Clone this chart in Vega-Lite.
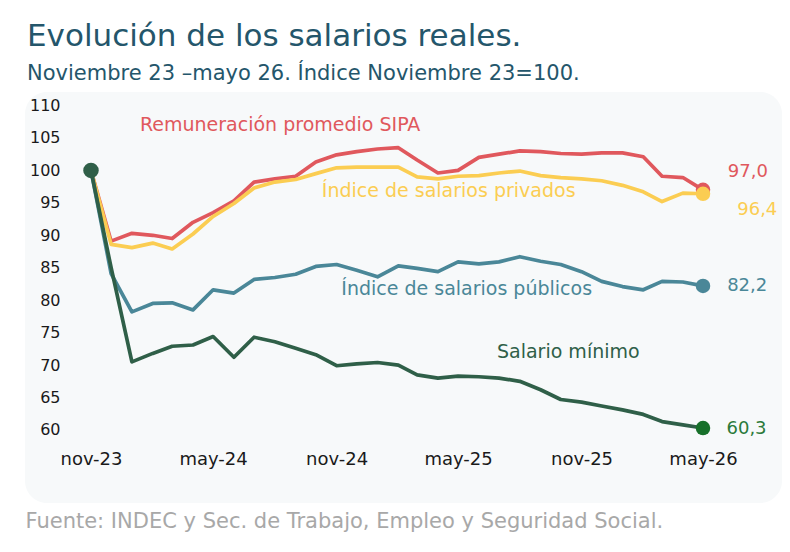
{
  "$schema": "https://vega.github.io/schema/vega-lite/v6.json",
  "description": "Evolución de los salarios reales, índice noviembre 2023 = 100.",
  "width": 757,
  "height": 411,
  "autosize": {"type": "none"},
  "padding": {"left": 25, "top": 92, "right": 8, "bottom": 49},
  "background": "white",
  "config": {
    "font": "DejaVu Sans",
    "view": {"fill": "#f7f9fa", "stroke": null, "cornerRadius": 22}
  },
  "title": {
    "text": "Evolución de los salarios reales.",
    "subtitle": "Noviembre 23 –mayo 26. Índice Noviembre 23=100.",
    "anchor": "start",
    "frame": "group",
    "font": "DejaVu Sans",
    "subtitleFont": "DejaVu Sans",
    "fontSize": 31,
    "fontWeight": "normal",
    "color": "#24566b",
    "subtitleFontSize": 21,
    "subtitleColor": "#24566b",
    "subtitlePadding": 10,
    "offset": 7,
    "dx": 2
  },
  "datasets": {
    "salarios": [
      {"fecha": "2023-11-01", "Remuneración promedio SIPA": 100, "Índice de salarios privados": 100, "Índice de salarios públicos": 100, "Salario mínimo": 100},
      {"fecha": "2023-12-01", "Remuneración promedio SIPA": 89.1, "Índice de salarios privados": 88.6, "Índice de salarios públicos": 84.1, "Salario mínimo": 85.0},
      {"fecha": "2024-01-01", "Remuneración promedio SIPA": 90.3, "Índice de salarios privados": 88.1, "Índice de salarios públicos": 78.2, "Salario mínimo": 70.5},
      {"fecha": "2024-02-01", "Remuneración promedio SIPA": 90.0, "Índice de salarios privados": 88.8, "Índice de salarios públicos": 79.5, "Salario mínimo": 71.8},
      {"fecha": "2024-03-01", "Remuneración promedio SIPA": 89.5, "Índice de salarios privados": 87.9, "Índice de salarios públicos": 79.6, "Salario mínimo": 72.9},
      {"fecha": "2024-04-01", "Remuneración promedio SIPA": 92.0, "Índice de salarios privados": 90.2, "Índice de salarios públicos": 78.5, "Salario mínimo": 73.1},
      {"fecha": "2024-05-01", "Remuneración promedio SIPA": 93.5, "Índice de salarios privados": 92.9, "Índice de salarios públicos": 81.6, "Salario mínimo": 74.4},
      {"fecha": "2024-06-01", "Remuneración promedio SIPA": 95.3, "Índice de salarios privados": 94.9, "Índice de salarios públicos": 81.1, "Salario mínimo": 71.2},
      {"fecha": "2024-07-01", "Remuneración promedio SIPA": 98.2, "Índice de salarios privados": 97.3, "Índice de salarios públicos": 83.2, "Salario mínimo": 74.3},
      {"fecha": "2024-08-01", "Remuneración promedio SIPA": 98.7, "Índice de salarios privados": 98.2, "Índice de salarios públicos": 83.5, "Salario mínimo": 73.6},
      {"fecha": "2024-09-01", "Remuneración promedio SIPA": 99.1, "Índice de salarios privados": 98.6, "Índice de salarios públicos": 84.0, "Salario mínimo": 72.6},
      {"fecha": "2024-10-01", "Remuneración promedio SIPA": 101.3, "Índice de salarios privados": 99.5, "Índice de salarios públicos": 85.2, "Salario mínimo": 71.6},
      {"fecha": "2024-11-01", "Remuneración promedio SIPA": 102.4, "Índice de salarios privados": 100.4, "Índice de salarios públicos": 85.5, "Salario mínimo": 69.9},
      {"fecha": "2024-12-01", "Remuneración promedio SIPA": 102.9, "Índice de salarios privados": 100.5, "Índice de salarios públicos": 84.6, "Salario mínimo": 70.2},
      {"fecha": "2025-01-01", "Remuneración promedio SIPA": 103.3, "Índice de salarios privados": 100.5, "Índice de salarios públicos": 83.6, "Salario mínimo": 70.4},
      {"fecha": "2025-02-01", "Remuneración promedio SIPA": 103.5, "Índice de salarios privados": 100.5, "Índice de salarios públicos": 85.3, "Salario mínimo": 70.0},
      {"fecha": "2025-03-01", "Remuneración promedio SIPA": 101.6, "Índice de salarios privados": 99.0, "Índice de salarios públicos": 84.9, "Salario mínimo": 68.5},
      {"fecha": "2025-04-01", "Remuneración promedio SIPA": 99.6, "Índice de salarios privados": 98.7, "Índice de salarios públicos": 84.4, "Salario mínimo": 68.0},
      {"fecha": "2025-05-01", "Remuneración promedio SIPA": 100.0, "Índice de salarios privados": 99.1, "Índice de salarios públicos": 85.9, "Salario mínimo": 68.3},
      {"fecha": "2025-06-01", "Remuneración promedio SIPA": 102.0, "Índice de salarios privados": 99.2, "Índice de salarios públicos": 85.6, "Salario mínimo": 68.2},
      {"fecha": "2025-07-01", "Remuneración promedio SIPA": 102.5, "Índice de salarios privados": 99.6, "Índice de salarios públicos": 85.9, "Salario mínimo": 68.0},
      {"fecha": "2025-08-01", "Remuneración promedio SIPA": 103.0, "Índice de salarios privados": 99.9, "Índice de salarios públicos": 86.7, "Salario mínimo": 67.5},
      {"fecha": "2025-09-01", "Remuneración promedio SIPA": 102.9, "Índice de salarios privados": 99.2, "Índice de salarios públicos": 86.0, "Salario mínimo": 66.2},
      {"fecha": "2025-10-01", "Remuneración promedio SIPA": 102.6, "Índice de salarios privados": 98.9, "Índice de salarios públicos": 85.5, "Salario mínimo": 64.7},
      {"fecha": "2025-11-01", "Remuneración promedio SIPA": 102.5, "Índice de salarios privados": 98.7, "Índice de salarios públicos": 84.4, "Salario mínimo": 64.3},
      {"fecha": "2025-12-01", "Remuneración promedio SIPA": 102.7, "Índice de salarios privados": 98.4, "Índice de salarios públicos": 82.9, "Salario mínimo": 63.7},
      {"fecha": "2026-01-01", "Remuneración promedio SIPA": 102.7, "Índice de salarios privados": 97.7, "Índice de salarios públicos": 82.1, "Salario mínimo": 63.1},
      {"fecha": "2026-02-01", "Remuneración promedio SIPA": 102.1, "Índice de salarios privados": 96.7, "Índice de salarios públicos": 81.6, "Salario mínimo": 62.4},
      {"fecha": "2026-03-01", "Remuneración promedio SIPA": 99.1, "Índice de salarios privados": 95.2, "Índice de salarios públicos": 82.9, "Salario mínimo": 61.3},
      {"fecha": "2026-04-01", "Remuneración promedio SIPA": 98.9, "Índice de salarios privados": 96.5, "Índice de salarios públicos": 82.8, "Salario mínimo": 60.8},
      {"fecha": "2026-05-01", "Remuneración promedio SIPA": 97.0, "Índice de salarios privados": 96.4, "Índice de salarios públicos": 82.2, "Salario mínimo": 60.3}
    ],
    "grilla": [
      {"nivel": 60}, {"nivel": 65}, {"nivel": 70}, {"nivel": 75}, {"nivel": 80}, {"nivel": 85},
      {"nivel": 90}, {"nivel": 95}, {"nivel": 100}, {"nivel": 105}, {"nivel": 110}
    ],
    "etiquetas": [
      {"fecha": "2024-01-13", "valor": 107.0, "texto": "Remuneración promedio SIPA", "serie": "Remuneración promedio SIPA", "tipo": "nombre"},
      {"fecha": "2024-10-10", "valor": 96.8, "texto": "Índice de salarios privados", "serie": "Índice de salarios privados", "tipo": "nombre"},
      {"fecha": "2024-11-08", "valor": 81.7, "texto": "Índice de salarios públicos", "serie": "Índice de salarios públicos", "tipo": "nombre"},
      {"fecha": "2025-06-28", "valor": 72.0, "texto": "Salario mínimo", "serie": "Salario mínimo", "tipo": "nombre"},
      {"fecha": "2026-06-07", "valor": 99.75, "texto": "97,0", "serie": "Remuneración promedio SIPA", "tipo": "valor"},
      {"fecha": "2026-06-21", "valor": 93.9, "texto": "96,4", "serie": "Índice de salarios privados", "tipo": "valor"},
      {"fecha": "2026-06-06", "valor": 82.2, "texto": "82,2", "serie": "Índice de salarios públicos", "tipo": "valor"},
      {"fecha": "2026-06-05", "valor": 60.2, "texto": "60,3", "serie": "Salario mínimo", "tipo": "valor"}
    ]
  },
  "encoding": {
    "x": {
      "field": "fecha",
      "type": "temporal",
      "scale": {
        "type": "utc",
        "domain": [
          {"year": 2023, "month": 7, "date": 25, "hours": 16, "utc": true},
          {"year": 2026, "month": 8, "date": 26, "hours": 17, "utc": true}
        ]
      },
      "axis": {
        "values": [
          {"year": 2023, "month": 11, "date": 1, "utc": true},
          {"year": 2024, "month": 5, "date": 1, "utc": true},
          {"year": 2024, "month": 11, "date": 1, "utc": true},
          {"year": 2025, "month": 5, "date": 1, "utc": true},
          {"year": 2025, "month": 11, "date": 1, "utc": true},
          {"year": 2026, "month": 5, "date": 1, "utc": true}
        ],
        "labelExpr": "lower(utcFormat(datum.value, '%b-%y'))",
        "grid": false,
        "ticks": false,
        "tickSize": 0,
        "domain": false,
        "labelPadding": 0,
        "labelFontSize": 18,
        "labelColor": "#1a1a1a",
        "labelFlush": false,
        "labelOverlap": false,
        "offset": -53,
        "title": "Fuente: INDEC y Sec. de Trabajo, Empleo y Seguridad Social.",
        "titleAnchor": "start",
        "titleAlign": "left",
        "titleBaseline": "top",
        "titleFontSize": 21,
        "titleFontWeight": "normal",
        "titleColor": "#a8a8a8",
        "titlePadding": 42
      }
    },
    "y": {
      "type": "quantitative",
      "scale": {"domain": [48.75, 112.08], "nice": false, "zero": false},
      "axis": {
        "values": [60, 65, 70, 75, 80, 85, 90, 95, 100, 105, 110],
        "grid": false,
        "ticks": false,
        "tickSize": 0,
        "domain": false,
        "labelPadding": 0,
        "labelFontSize": 16,
        "labelColor": "#1a1a1a",
        "offset": -35,
        "title": null
      }
    }
  },
  "layer": [
    {
      "mark": {"type": "rect", "color": "#f1f5f6"},
      "encoding": {
        "x": {"datum": {"year": 2023, "month": 10, "date": 17, "utc": true}, "type": "temporal"},
        "x2": {"datum": {"year": 2026, "month": 5, "date": 16, "utc": true}},
        "y": {"datum": 111.2, "type": "quantitative"},
        "y2": {"datum": 57.5}
      }
    },
    {
      "data": {"name": "grilla"},
      "mark": {"type": "rule", "color": "#dde2e4", "strokeWidth": 2},
      "encoding": {
        "x": {"datum": {"year": 2023, "month": 10, "date": 18, "utc": true}, "type": "temporal"},
        "x2": {"datum": {"year": 2026, "month": 5, "date": 16, "utc": true}},
        "y": {"field": "nivel", "type": "quantitative"}
      }
    },
    {
      "data": {"name": "salarios"},
      "transform": [
        {"fold": ["Remuneración promedio SIPA", "Índice de salarios privados", "Índice de salarios públicos", "Salario mínimo"], "as": ["serie", "valor"]}
      ],
      "mark": {"type": "line", "strokeWidth": 3.7, "strokeJoin": "round", "strokeCap": "round"},
      "encoding": {
        "y": {"field": "valor"},
        "color": {
          "field": "serie",
          "type": "nominal",
          "scale": {
            "domain": ["Remuneración promedio SIPA", "Índice de salarios privados", "Índice de salarios públicos", "Salario mínimo"],
            "range": ["#e0585d", "#fbcd52", "#4a8798", "#2f5f48"]
          },
          "legend": null
        }
      }
    },
    {
      "data": {"name": "salarios"},
      "transform": [
        {"fold": ["Remuneración promedio SIPA", "Índice de salarios privados", "Índice de salarios públicos", "Salario mínimo"], "as": ["serie", "valor"]},
        {"filter": "utcyear(datum.fecha) == 2026 && utcmonth(datum.fecha) == 4"}
      ],
      "mark": {"type": "circle", "size": 210, "opacity": 1},
      "encoding": {
        "y": {"field": "valor"},
        "color": {
          "condition": {"test": "datum.serie == 'Salario mínimo'", "value": "#17702a"},
          "field": "serie",
          "type": "nominal",
          "legend": null
        }
      }
    },
    {
      "data": {"name": "salarios"},
      "transform": [
        {"filter": "utcyear(datum.fecha) == 2023 && utcmonth(datum.fecha) == 10"}
      ],
      "mark": {"type": "circle", "size": 240, "opacity": 1, "color": "#2f5f48"},
      "encoding": {
        "y": {"field": "Salario mínimo"}
      }
    },
    {
      "data": {"name": "etiquetas"},
      "mark": {"type": "text", "align": "left", "baseline": "middle"},
      "encoding": {
        "y": {"field": "valor"},
        "text": {"field": "texto"},
        "size": {"condition": {"test": "datum.tipo == 'valor'", "value": 18}, "value": 19},
        "color": {
          "condition": {"test": "datum.texto == '60,3'", "value": "#2c7a3a"},
          "field": "serie",
          "type": "nominal",
          "legend": null
        }
      }
    }
  ]
}
